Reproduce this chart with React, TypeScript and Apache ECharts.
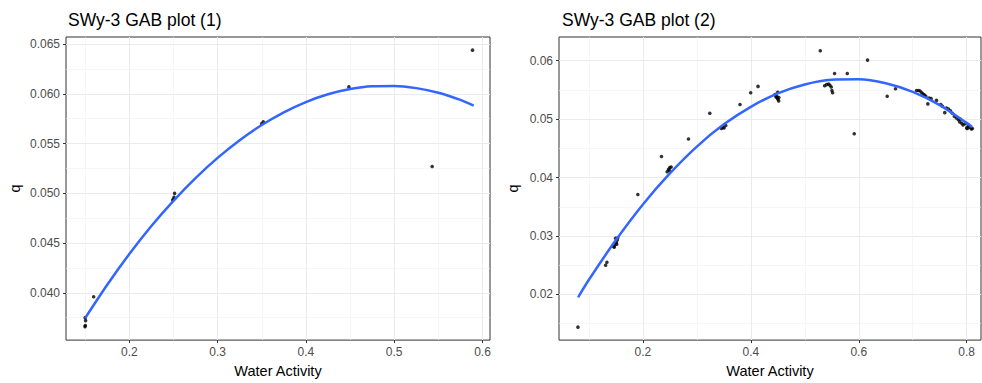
import React, { useEffect, useRef } from "react";
import * as echarts from "echarts";

// ---- Panel titles / axis titles ----
const titles = ["SWy-3 GAB plot (1)", "SWy-3 GAB plot (2)"];
const xTitle = "Water Activity";
const yTitle = "q";

// ---- Panel 1: observed points ----
const leftX = [0.1498, 0.1502, 0.1505, 0.1500, 0.1596, 0.2492, 0.2498, 0.2506, 0.2513, 0.3498, 0.3517, 0.4487, 0.5430, 0.5887];
const leftY = [0.0366, 0.0367, 0.0372, 0.0375, 0.0396, 0.0493, 0.0494, 0.0496, 0.0500, 0.0570, 0.0572, 0.0607, 0.0527, 0.0644];

// ---- Panel 1: fitted curve ----
const leftFitX = [0.150, 0.175, 0.200, 0.225, 0.250, 0.275, 0.300, 0.325, 0.350, 0.375, 0.400, 0.425, 0.450, 0.475, 0.500, 0.525, 0.550, 0.575, 0.590];
const leftFitY = [0.03745, 0.04080, 0.04390, 0.04672, 0.04925, 0.05153, 0.05356, 0.05534, 0.05687, 0.05815, 0.05918, 0.05996, 0.06049, 0.06077, 0.06080, 0.06058, 0.06011, 0.05939, 0.05882];

// ---- Panel 2: observed points ----
const rightX = [
  0.0797, 0.1310, 0.1334, 0.1457, 0.1470, 0.1480, 0.1494, 0.1507, 0.1525, 0.1515, 0.1535,
  0.1907, 0.2345, 0.2450, 0.2475, 0.2490, 0.2500, 0.2524, 0.2845, 0.3240,
  0.3456, 0.3480, 0.3505, 0.3536, 0.3800, 0.3998, 0.4134,
  0.4448, 0.4467, 0.4490, 0.4504, 0.4516, 0.4498, 0.4480, 0.4520,
  0.5287, 0.5367, 0.5404, 0.5441, 0.5466, 0.5490, 0.5503, 0.5515,
  0.5552, 0.5787, 0.5916, 0.6163, 0.6527, 0.6681,
  0.7070, 0.7107, 0.7137, 0.7168, 0.7193, 0.7218, 0.7242, 0.7280, 0.7304, 0.7341,
  0.7440, 0.7520, 0.7550, 0.7594, 0.7625, 0.7662, 0.7699, 0.7735, 0.7772, 0.7809,
  0.7846, 0.7870, 0.7880, 0.7908, 0.7932, 0.7969, 0.8000, 0.8012, 0.8031, 0.8055, 0.8086, 0.8105,
];
const rightY = [
  0.0144, 0.0250, 0.0255, 0.0282, 0.0281, 0.0285, 0.0296, 0.0289, 0.0293, 0.0286, 0.0297,
  0.0371, 0.0436, 0.0410, 0.0414, 0.0412, 0.0417, 0.0418, 0.0466, 0.0510,
  0.0484, 0.0486, 0.0485, 0.0489, 0.0525, 0.0545, 0.0556,
  0.0542, 0.0538, 0.0536, 0.0534, 0.0531, 0.0546, 0.0539, 0.0537,
  0.0617, 0.0557, 0.0559, 0.0560, 0.0558, 0.0555, 0.0549, 0.0545,
  0.0578, 0.0578, 0.0475, 0.0601, 0.0539, 0.0552,
  0.0549, 0.0549, 0.0548, 0.0545, 0.0543, 0.0541, 0.0539, 0.0526, 0.0536, 0.0535,
  0.0532, 0.0525, 0.0522, 0.0511, 0.0519, 0.0517, 0.0514, 0.0510, 0.0505, 0.0502,
  0.0499, 0.0495, 0.0500, 0.0493, 0.0490, 0.0492, 0.0485, 0.0484, 0.0489, 0.0486, 0.0483, 0.0484,
];

// ---- Panel 2: fitted curve ----
const rightFitX = [0.080, 0.100, 0.150, 0.200, 0.250, 0.300, 0.350, 0.400, 0.450, 0.500, 0.550, 0.600, 0.650, 0.700, 0.750, 0.800, 0.810];
const rightFitY = [0.01950, 0.02250, 0.02930, 0.03540, 0.04070, 0.04530, 0.04910, 0.05210, 0.05440, 0.05592, 0.05672, 0.05680, 0.05612, 0.05465, 0.05240, 0.04935, 0.04865];

// ---- Axis ranges ----
const leftXRange = [0.1283, 0.6085];
const leftYRange = [0.03524, 0.06572];
const rightXRange = [0.0446, 0.8265];
const rightYRange = [0.01218, 0.06405];

const zip = (xs: number[], ys: number[]) => xs.map((x, i) => [x, ys[i]]);

export default function App() {
  const ref = useRef<HTMLDivElement>(null);
  useEffect(() => {
    const chart = echarts.init(ref.current!, null, { renderer: "svg" });
    const font = "'Liberation Sans', Arial, sans-serif";
    const grid = "#EBEBEB";
    const common = {
      type: "value",
      nameLocation: "middle",
      nameTextStyle: { color: "#000", fontSize: 14.5, fontFamily: font },
      axisLine: { show: false },
      axisTick: { show: true, length: 3, lineStyle: { color: "#333333" } },
      splitLine: { show: true, showMinLine: false, showMaxLine: false, lineStyle: { color: grid, width: 1 } },
      minorTick: { show: false, splitNumber: 2 },
      minorSplitLine: { show: true, lineStyle: { color: "#F0F0F0", width: 0.6 } },
    };
    const lbl = { color: "#4D4D4D", fontSize: 12, fontFamily: font, showMinLabel: false, showMaxLabel: false };
    const mkX = (idx: number, r: number[]) => ({
      ...common,
      gridIndex: idx,
      min: r[0],
      max: r[1],
      name: xTitle,
      nameGap: 22,
      axisLabel: { ...lbl, margin: 6 },
    });
    const mkY = (idx: number, r: number[], gap: number, fmt?: (v: number) => string) => ({
      ...common,
      gridIndex: idx,
      min: r[0],
      max: r[1],
      name: yTitle,
      nameGap: gap,
      axisLabel: { ...lbl, margin: 6, ...(fmt ? { formatter: fmt } : {}) },
    });
    const scatter = (i: number, xs: number[], ys: number[]) => ({
      type: "scatter",
      xAxisIndex: i,
      yAxisIndex: i,
      data: zip(xs, ys),
      symbolSize: 3.6,
      itemStyle: { color: "#000" },
      silent: true,
    });
    const fit = (i: number, xs: number[], ys: number[]) => ({
      type: "line",
      xAxisIndex: i,
      yAxisIndex: i,
      data: zip(xs, ys),
      smooth: 0.3,
      showSymbol: false,
      lineStyle: { color: "#3366FF", width: 2.5 },
      silent: true,
    });
    const tStyle = { fontSize: 17.5, fontWeight: "normal", color: "#000", fontFamily: font };
    chart.setOption({
      animation: false,
      backgroundColor: "#fff",
      title: [
        { text: titles[0], left: 63, top: 6, textStyle: tStyle },
        { text: titles[1], left: 557, top: 6, textStyle: tStyle },
      ],
      grid: [
        { left: 66, top: 37, width: 424, height: 307, show: true, borderColor: "#333333", borderWidth: 1, backgroundColor: "transparent" },
        { left: 559, top: 37, width: 422, height: 307, show: true, borderColor: "#333333", borderWidth: 1, backgroundColor: "transparent" },
      ],
      xAxis: [mkX(0, leftXRange), mkX(1, rightXRange)],
      yAxis: [mkY(0, leftYRange, 44, (v: number) => v.toFixed(3)), mkY(1, rightYRange, 39)],
      series: [
        scatter(0, leftX, leftY),
        fit(0, leftFitX, leftFitY),
        scatter(1, rightX, rightY),
        fit(1, rightFitX, rightFitY),
      ],
    });
    return () => chart.dispose();
  }, []);
  return <div ref={ref} style={{ position: "fixed", left: 0, top: 0, width: 982, height: 383 }} />;
}
